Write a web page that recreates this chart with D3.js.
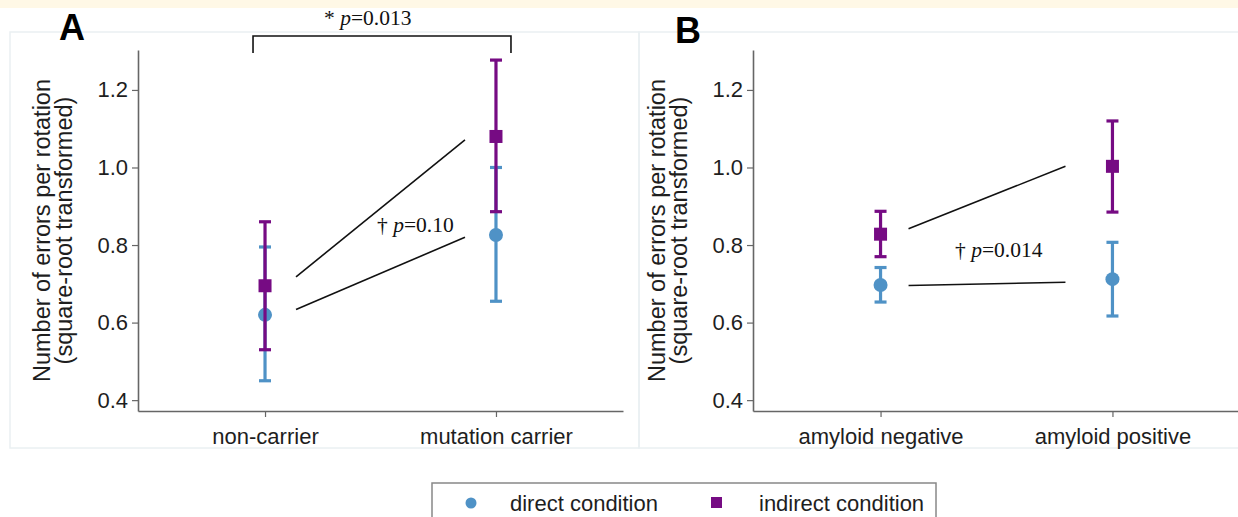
<!DOCTYPE html>
<html>
<head>
<meta charset="utf-8">
<script src="https://cdn.jsdelivr.net/npm/d3@7"></script>
<style>
  html, body { margin: 0; padding: 0; background: #fff; }
  svg { display: block; }
  .tick text { font-family: 'Liberation Sans', Arial, sans-serif; font-size: 22px; fill: #1e1e1e; }
</style>
</head>
<body>
<svg id="chart" width="1238" height="517"></svg>
<script>
// Categories and tick values
const categoriesA = ['non-carrier', 'mutation carrier'];
const categoriesB = ['amyloid negative', 'amyloid positive'];
const yTickValues = [0.4, 0.6, 0.8, 1.0, 1.2];

// Panel A: means and error limits
const directMeanA = [0.62, 0.826];
const directLowA = [0.45, 0.655];
const directHighA = [0.795, 1.0];
const indirectMeanA = [0.695, 1.08];
const indirectLowA = [0.53, 0.886];
const indirectHighA = [0.86, 1.277];

// Panel B: means and error limits
const directMeanB = [0.697, 0.712];
const directLowB = [0.653, 0.617];
const directHighB = [0.742, 0.807];
const indirectMeanB = [0.828, 1.003];
const indirectLowB = [0.77, 0.885];
const indirectHighB = [0.887, 1.12];

// Interaction annotation lines (start value, end value)
const lineUpperA = [0.718, 1.071];
const lineLowerA = [0.634, 0.82];
const lineUpperB = [0.842, 1.003];
const lineLowerB = [0.6955, 0.704];

const blue = '#4f92c6';
const purple = '#760b83';
const axisColor = '#666';

const svg = d3.select('#chart');

// light yellow band on top
svg.append('rect').attr('x', 0).attr('y', 0).attr('width', 1238).attr('height', 8).attr('fill', '#fff8e6');

// faint panel frames
svg.append('rect').attr('x', 10).attr('y', 32).attr('width', 629).attr('height', 416)
  .attr('fill', 'none').attr('stroke', '#eaf0f2').attr('stroke-width', 1.5);
svg.append('rect').attr('x', 639).attr('y', 32).attr('width', 610).attr('height', 416)
  .attr('fill', 'none').attr('stroke', '#eaf0f2').attr('stroke-width', 1.5);

const y = d3.scaleLinear().domain([0.372, 1.303]).range([411, 50]);

function drawPanel(cats, xRange, series, label, labelPos) {
  const x = d3.scalePoint().domain(cats).range(xRange).padding(0.55);
  const g = svg.append('g');

  // axes
  const yAxis = g.append('g').attr('transform', `translate(${xRange[0]},0)`)
    .call(d3.axisLeft(y).tickValues(yTickValues).tickFormat(d3.format('.1f')).tickSize(6).tickSizeOuter(0).tickPadding(4));
  const xAxis = g.append('g').attr('transform', `translate(0,${y.range()[0]})`)
    .call(d3.axisBottom(x).tickSize(6).tickSizeOuter(0).tickPadding(11));
  [yAxis, xAxis].forEach((a) => {
    a.select('.domain').attr('stroke', axisColor).attr('stroke-width', 1.6);
    a.selectAll('.tick line').attr('stroke', axisColor).attr('stroke-width', 1.2);
  });

  // axis title (two lines)
  const midY = (y.range()[0] + y.range()[1]) / 2;
  [['Number of errors per rotation', -88], ['(square-root transformed)', -66]].forEach(([t, off]) => {
    g.append('text')
      .attr('transform', `translate(${xRange[0] + off},${midY}) rotate(-90)`)
      .attr('text-anchor', 'middle')
      .attr('font-family', "'Liberation Sans', Arial, sans-serif")
      .attr('font-size', '23.5px')
      .attr('fill', '#1e1e1e')
      .text(t);
  });

  // error bars then markers, direct first so indirect sits on top
  series.forEach((s) => {
    cats.forEach((c, i) => {
      const cx = x(c);
      g.append('line').attr('x1', cx).attr('x2', cx).attr('y1', y(s.low[i])).attr('y2', y(s.high[i]))
        .attr('stroke', s.color).attr('stroke-width', 3.2);
      [s.low[i], s.high[i]].forEach((v) => {
        g.append('line').attr('x1', cx - 6).attr('x2', cx + 6).attr('y1', y(v)).attr('y2', y(v))
          .attr('stroke', s.color).attr('stroke-width', 3.2);
      });
      if (s.shape === 'circle') {
        g.append('circle').attr('cx', cx).attr('cy', y(s.mean[i])).attr('r', 7).attr('fill', s.color);
      } else {
        g.append('rect').attr('x', cx - 6.5).attr('y', y(s.mean[i]) - 6.5).attr('width', 13).attr('height', 13).attr('fill', s.color);
      }
    });
  });

  // panel letter
  g.append('text').attr('x', labelPos[0]).attr('y', labelPos[1])
    .attr('font-family', "'Liberation Sans', Arial, sans-serif").attr('font-weight', 'bold')
    .attr('font-size', '36px').attr('fill', '#000').text(label);

  return { g, x };
}

const panelA = drawPanel(categoriesA, [138, 623], [
  { mean: directMeanA, low: directLowA, high: directHighA, color: blue, shape: 'circle' },
  { mean: indirectMeanA, low: indirectLowA, high: indirectHighA, color: purple, shape: 'square' }
], 'A', [59, 40]);

const panelB = drawPanel(categoriesB, [753, 1240], [
  { mean: directMeanB, low: directLowB, high: directHighB, color: blue, shape: 'circle' },
  { mean: indirectMeanB, low: indirectLowB, high: indirectHighB, color: purple, shape: 'square' }
], 'B', [675, 43]);

// annotation lines between groups
function annotLine(panel, vals, offL, offR) {
  const [c0, c1] = panel.x.domain();
  panel.g.append('line')
    .attr('x1', panel.x(c0) + offL).attr('y1', y(vals[0]))
    .attr('x2', panel.x(c1) - offR).attr('y2', y(vals[1]))
    .attr('stroke', '#111').attr('stroke-width', 1.6);
}
annotLine(panelA, lineUpperA, 31, 31);
annotLine(panelA, lineLowerA, 31, 31);
annotLine(panelB, lineUpperB, 28, 47);
annotLine(panelB, lineLowerB, 28, 47);

// serif p-value labels
function pLabel(g, xPos, yPos, mark, val) {
  const t = g.append('text').attr('x', xPos).attr('y', yPos)
    .attr('font-family', "'Liberation Serif', 'Times New Roman', serif").attr('font-size', '21.5px').attr('fill', '#111');
  t.append('tspan').text(mark + ' ');
  t.append('tspan').attr('font-style', 'italic').text('p');
  t.append('tspan').text('=' + val);
}

// significance bracket across panel A
const bx0 = panelA.x(categoriesA[0]) - 12;
const bx1 = panelA.x(categoriesA[1]) + 15;
panelA.g.append('path')
  .attr('d', `M${bx0},53 V36 H${bx1} V53`)
  .attr('fill', 'none').attr('stroke', '#111').attr('stroke-width', 1.6);
pLabel(panelA.g, 324, 25, '*', '0.013');
pLabel(panelA.g, 377, 232, '\u2020', '0.10');
pLabel(panelB.g, 955, 257, '\u2020', '0.014');

// legend
const legend = svg.append('g');
legend.append('rect').attr('x', 432).attr('y', 483).attr('width', 504).attr('height', 60)
  .attr('fill', '#fff').attr('stroke', '#888').attr('stroke-width', 1.5);
legend.append('circle').attr('cx', 471).attr('cy', 503).attr('r', 5.5).attr('fill', blue);
legend.append('rect').attr('x', 711).attr('y', 497).attr('width', 11).attr('height', 11).attr('fill', purple);
[['direct condition', 510], ['indirect condition', 759]].forEach(([t, lx]) => {
  legend.append('text').attr('x', lx).attr('y', 511)
    .attr('font-family', "'Liberation Sans', Arial, sans-serif").attr('font-size', '22px').attr('fill', '#1e1e1e')
    .text(t);
});
</script>
</body>
</html>
